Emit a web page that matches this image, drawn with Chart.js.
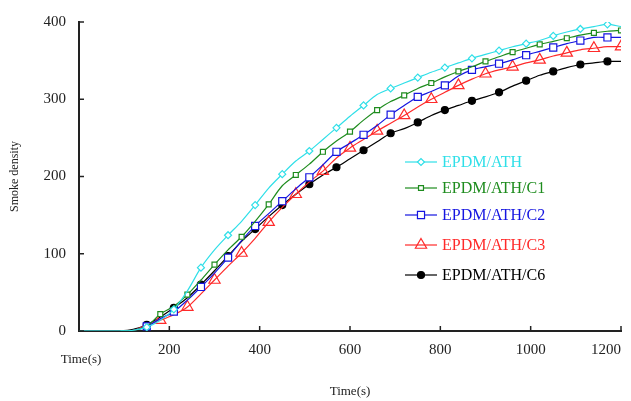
<!DOCTYPE html>
<html>
<head>
<meta charset="utf-8">
<script src="https://cdn.jsdelivr.net/npm/chart.js@4.4.0/dist/chart.umd.min.js"></script>
<style>
  html, body { margin: 0; padding: 0; background: #fff; }
  #wrap { width: 631px; height: 401px; }
</style>
</head>
<body>
<div id="wrap"><canvas id="smoke" width="631" height="401"></canvas></div>
<script>
// time axis (s)
const times = [0, 30, 60, 90, 120, 150, 180, 210, 240, 270, 300, 330, 360, 390, 420, 450, 480, 510, 540, 570,
  600, 630, 660, 690, 720, 750, 780, 810, 840, 870, 900, 930, 960, 990, 1020, 1050, 1080, 1110, 1140, 1170, 1200];

// smoke density per sample
const ath = [0, 0, 0, 0, 1, 5, 14, 28, 52, 82, 105, 124, 142, 163, 185, 203, 220, 233, 248, 263,
  278, 292, 306, 314, 321, 328, 335, 341, 347, 353, 358, 363, 368, 372, 376, 382, 387, 391, 394, 397, 394];
const athC1 = [0, 0, 0, 0, 1, 6, 22, 32, 47, 66, 86, 105, 122, 142, 164, 188, 202, 216, 232, 246,
  258, 273, 286, 297, 305, 314, 321, 329, 336, 342, 349, 355, 361, 366, 371, 375, 379, 383, 386, 388, 389];
const athC2 = [0, 0, 0, 0, 1, 6, 16, 25, 40, 57, 75, 95, 117, 136, 152, 168, 184, 199, 215, 232,
  243, 254, 266, 280, 292, 303, 310, 318, 330, 338, 342, 346, 351, 357, 362, 367, 372, 376, 380, 380, 380];
const athC3 = [0, 0, 0, 0, 1, 8, 14, 21, 31, 48, 66, 84, 101, 120, 141, 160, 177, 193, 207, 224,
  237, 248, 259, 269, 279, 290, 300, 309, 318, 326, 333, 338, 342, 347, 351, 356, 360, 364, 366, 368, 368];
const athC6 = [0, 0, 0, 0, 2, 8, 18, 30, 43, 60, 78, 97, 116, 132, 148, 163, 177, 190, 202, 212,
  223, 234, 245, 256, 262, 270, 279, 286, 292, 298, 303, 309, 317, 324, 331, 336, 341, 345, 347, 349, 349];

const seriesNames = ["EPDM/ATH", "EPDM/ATH/C1", "EPDM/ATH/C2", "EPDM/ATH/C3", "EPDM/ATH/C6"];
const xTicks = [200, 400, 600, 800, 1000, 1200];
const yTicks = [0, 100, 200, 300, 400];

const serif = '"Liberation Serif", "DejaVu Serif", serif';

function series(label, values, color, style, radius, phase, fill) {
  return {
    label: label,
    data: times.map((t, i) => ({ x: t, y: values[i] })),
    borderColor: color,
    backgroundColor: fill,
    borderWidth: 1.2,
    pointStyle: style,
    pointBorderColor: color,
    pointBackgroundColor: fill,
    pointBorderWidth: 1.2,
    pointRadius: ctx => (times[ctx.dataIndex] >= 150 && (ctx.dataIndex + phase) % 2 === 0) ? radius : 0,
    tension: 0.3
  };
}

const datasets = [
  series(seriesNames[0], ath, "#2fdfe8", "rectRot", 3.5, 1, "#ffffff"),
  series(seriesNames[1], athC1, "#1e8c1e", "rect", 3.5, 0, "#ffffff"),
  series(seriesNames[2], athC2, "#1515e0", "rect", 5, 1, "#ffffff"),
  series(seriesNames[3], athC3, "#ff2a2a", "triangle", 6.5, 0, "rgba(255,255,255,0)"),
  series(seriesNames[4], athC6, "#000000", "circle", 3.5, 1, "#000000")
];

// inward ticks, the extra time label and the legend box
const extras = {
  id: "extras",
  afterDraw(chart) {
    const { ctx, scales: { x, y } } = chart;
    ctx.save();
    ctx.strokeStyle = "#222";
    ctx.lineWidth = 1.5;
    yTicks.forEach(v => {
      const py = y.getPixelForValue(v);
      ctx.beginPath(); ctx.moveTo(x.left, py); ctx.lineTo(x.left + 5, py); ctx.stroke();
    });
    xTicks.forEach(v => {
      const px = x.getPixelForValue(v);
      ctx.beginPath(); ctx.moveTo(px, y.bottom); ctx.lineTo(px, y.bottom - 5); ctx.stroke();
    });

    ctx.fillStyle = "#222";
    ctx.font = "13px " + serif;
    ctx.textAlign = "center";
    ctx.textBaseline = "middle";
    ctx.fillText("Time(s)", 81, 360);

    const legendY = [162, 188, 215, 245, 275];
    chart.data.datasets.forEach((ds, i) => {
      const cy = legendY[i];
      ctx.strokeStyle = ds.borderColor;
      ctx.lineWidth = 1.2;
      ctx.beginPath(); ctx.moveTo(405, cy); ctx.lineTo(437, cy); ctx.stroke();
      ctx.fillStyle = ds.pointBackgroundColor;
      const r = [3.5, 3.5, 5, 6.5, 3.5][i];
      Chart.helpers.drawPoint(ctx, { pointStyle: ds.pointStyle, rotation: 0, radius: r, borderWidth: 1.2 }, 421, cy);
      ctx.fillStyle = ds.borderColor;
      ctx.font = "16px " + serif;
      ctx.textAlign = "left";
      ctx.fillText(ds.label, 442, cy + 1);
    });
    ctx.restore();
  }
};

new Chart(document.getElementById("smoke"), {
  type: "line",
  data: { datasets: datasets },
  plugins: [extras],
  options: {
    responsive: false,
    animation: false,
    layout: { padding: { left: 0, right: 10, top: 22, bottom: 0 } },
    plugins: { legend: { display: false }, tooltip: { enabled: false } },
    scales: {
      x: {
        type: "linear",
        min: 0,
        max: 1200,
        afterFit: s => { s.height = 70; s.paddingLeft = 0; s.paddingRight = 0; },
        ticks: {
          stepSize: 200,
          padding: 10,
          maxRotation: 0,
          align: "inner",
          color: "#222",
          font: { family: serif, size: 15 },
          callback: v => (v === 0 ? "" : v)
        },
        grid: { drawOnChartArea: false, drawTicks: false },
        border: { color: "#222", width: 2 },
        title: { display: true, text: "Time(s)", color: "#222", font: { family: serif, size: 13 }, padding: { top: 0, bottom: 2 } }
      },
      y: {
        min: 0,
        max: 400,
        afterFit: s => { s.width = 79; },
        ticks: {
          stepSize: 100,
          padding: 13,
          color: "#222",
          font: { family: serif, size: 15 }
        },
        grid: { drawOnChartArea: false, drawTicks: false },
        border: { color: "#222", width: 2 },
        title: { display: true, text: "Smoke density", color: "#222", font: { family: serif, size: 12 }, padding: { top: 8, bottom: 0 } }
      }
    }
  }
});
</script>
</body>
</html>
